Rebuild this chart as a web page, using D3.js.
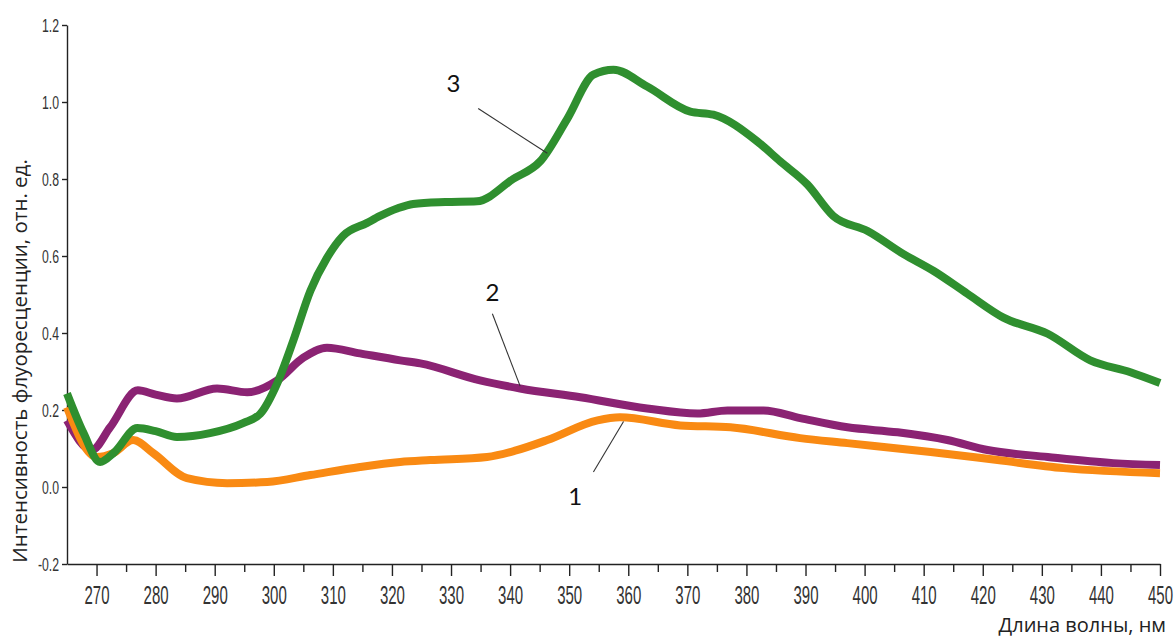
<!DOCTYPE html>
<html>
<head>
<meta charset="utf-8">
<script src="https://cdn.jsdelivr.net/npm/d3@7"></script>
<style>
  html, body { margin: 0; padding: 0; background: #fff; }
  svg { display: block; }
</style>
</head>
<body>
<svg id="chart" width="1174" height="638"></svg>
<script>
// Fluorescence spectra: wavelength (nm) and relative intensity for each sample
const wl1 = [265, 270, 272.8, 276.2, 279.6, 285.3, 292.1, 298.9, 306.2, 314.6, 321.4, 326.5, 336.1, 341, 346.3, 354.8, 358.6, 368.8, 377.3, 389.1, 397.1, 411.2, 422.5, 433.7, 450];
const int1 = [0.207, 0.078, 0.088, 0.122, 0.088, 0.023, 0.010, 0.013, 0.031, 0.052, 0.065, 0.070, 0.078, 0.095, 0.122, 0.173, 0.181, 0.160, 0.155, 0.127, 0.114, 0.091, 0.070, 0.049, 0.036];

const wl2 = [265, 269.2, 272.3, 277, 280, 283.6, 290.4, 295.5, 300.6, 305, 309, 314.6, 321.4, 324.8, 334.9, 341.7, 351.9, 363.2, 371.7, 376.8, 382.9, 389.1, 397.1, 405.6, 414, 420.8, 431, 442.1, 450];
const int2 = [0.173, 0.096, 0.155, 0.251, 0.240, 0.230, 0.256, 0.246, 0.277, 0.336, 0.362, 0.347, 0.329, 0.321, 0.277, 0.256, 0.233, 0.204, 0.191, 0.199, 0.199, 0.179, 0.155, 0.142, 0.122, 0.096, 0.078, 0.062, 0.057];

const wl3 = [265, 267.8, 270.6, 273, 276.9, 280, 283.6, 289.2, 294.8, 297.7, 300.6, 303.3, 306.2, 309, 311.7, 315.8, 318, 321, 323.6, 329, 334.4, 340.5, 345.1, 349.7, 354.1, 357.5, 363.2, 370.5, 374.4, 381.8, 385.7, 390.3, 394.7, 400.5, 406.6, 411.7, 417.4, 423.5, 431, 438.2, 445, 450];
const int3 = [0.243, 0.140, 0.065, 0.090, 0.153, 0.145, 0.130, 0.140, 0.166, 0.190, 0.270, 0.380, 0.510, 0.595, 0.652, 0.686, 0.704, 0.724, 0.735, 0.740, 0.742, 0.800, 0.846, 0.957, 1.071, 1.084, 1.040, 0.975, 0.967, 0.898, 0.846, 0.786, 0.704, 0.665, 0.605, 0.561, 0.502, 0.440, 0.398, 0.329, 0.298, 0.270];

const seriesNames = ["1", "2", "3"];
const seriesColors = ["#f98a13", "#8b2373", "#2f8f2f"];

const xMajorTicks = d3.range(270, 451, 10);
const xMinorTicks = d3.range(275, 450, 10);
const yTicks = [-0.2, 0, 0.2, 0.4, 0.6, 0.8, 1.0, 1.2];

const xTitle = "Длина волны, нм";
const yTitle = "Интенсивность флуоресценции, отн. ед.";

// Leader labels: text position and the two ends of each leader line (data units)
const labelSeries = [0, 1, 2];
const labelTextWl = [351.0, 337.0, 330.4];
const labelTextVal = [-0.026, 0.504, 1.048];
const leaderFromWl = [354.1, 337.0, 334.6];
const leaderFromVal = [0.039, 0.450, 0.983];
const leaderToWl = [359.2, 341.7, 346.3];
const leaderToVal = [0.170, 0.262, 0.867];

const svg = d3.select("#chart");

const x = d3.scaleLinear().domain([265, 450]).range([67, 1160]);
const y = d3.scaleLinear().domain([-0.2, 1.2]).range([564, 25]);

const tickFont = "'Liberation Sans', Arial, sans-serif";
const tickColor = "#333";
const axisColor = "#222";

// x axis: major and minor ticks
const xAxisG = svg.append("g").attr("transform", `translate(0,${y(-0.2)})`);
xAxisG.call(d3.axisBottom(x).tickValues(xMajorTicks).tickSize(12).tickSizeOuter(0).tickFormat(d3.format("d")));
xAxisG.select(".domain").attr("stroke", axisColor).attr("stroke-width", 1.4);
xAxisG.selectAll(".tick line").attr("stroke", axisColor).attr("stroke-width", 1.4);
xAxisG.selectAll(".tick text")
  .attr("y", 0).attr("dy", 0)
  .attr("transform", "translate(0,40) scale(0.6,1)")
  .attr("font-family", tickFont).attr("font-size", 25)
  .attr("fill", tickColor);

const xMinorG = svg.append("g").attr("transform", `translate(0,${y(-0.2)})`);
xMinorG.call(d3.axisBottom(x).tickValues(xMinorTicks).tickSize(8).tickSizeOuter(0).tickFormat(""));
xMinorG.select(".domain").remove();
xMinorG.selectAll(".tick line").attr("stroke", axisColor).attr("stroke-width", 1.4);

// y axis
const yAxisG = svg.append("g").attr("transform", `translate(${x(265)},0)`);
yAxisG.call(d3.axisLeft(y).tickValues(yTicks).tickSize(5).tickSizeOuter(0).tickFormat(d => d.toFixed(1)));
yAxisG.select(".domain").attr("stroke", axisColor).attr("stroke-width", 1.4);
yAxisG.selectAll(".tick line").attr("stroke", axisColor).attr("stroke-width", 1.4);
yAxisG.selectAll(".tick text")
  .attr("x", 0).attr("dy", "0.35em")
  .attr("transform", "translate(-8,0) scale(0.68,1)")
  .attr("font-family", tickFont).attr("font-size", 18)
  .attr("fill", tickColor);

// axis titles
svg.append("text")
  .attr("x", 1166).attr("y", 632)
  .attr("text-anchor", "end")
  .attr("font-family", "'Open Sans', sans-serif")
  .attr("font-size", 20)
  .attr("fill", "#222")
  .text(xTitle);

svg.append("text")
  .attr("transform", "translate(27,361) rotate(-90)")
  .attr("text-anchor", "middle")
  .attr("font-family", "'Open Sans', sans-serif")
  .attr("font-size", 20.5)
  .attr("fill", "#222")
  .text(yTitle);

// spectra
const line = d3.line().x(d => x(d[0])).y(d => y(d[1])).curve(d3.curveMonotoneX);
const allSeries = [
  d3.zip(wl1, int1),
  d3.zip(wl2, int2),
  d3.zip(wl3, int3)
];
const drawOrder = [1, 0, 2];
svg.append("g").selectAll("path")
  .data(drawOrder)
  .join("path")
  .attr("d", i => line(allSeries[i]))
  .attr("fill", "none")
  .attr("stroke", i => seriesColors[i])
  .attr("stroke-width", 8)
  .attr("stroke-linejoin", "round")
  .attr("stroke-linecap", "butt");

// numbered leader labels
const lab = svg.append("g");
labelSeries.forEach((s, k) => {
  lab.append("line")
    .attr("x1", x(leaderFromWl[k])).attr("y1", y(leaderFromVal[k]))
    .attr("x2", x(leaderToWl[k])).attr("y2", y(leaderToVal[k]))
    .attr("stroke", "#333").attr("stroke-width", 1.1);
  lab.append("text")
    .attr("x", x(labelTextWl[k])).attr("y", y(labelTextVal[k]))
    .attr("text-anchor", "middle")
    .attr("dy", "0.35em")
    .attr("font-family", "Lato, 'Open Sans', sans-serif")
    .attr("font-size", 24)
    .attr("fill", "#111")
    .text(seriesNames[s]);
});
</script>
</body>
</html>
